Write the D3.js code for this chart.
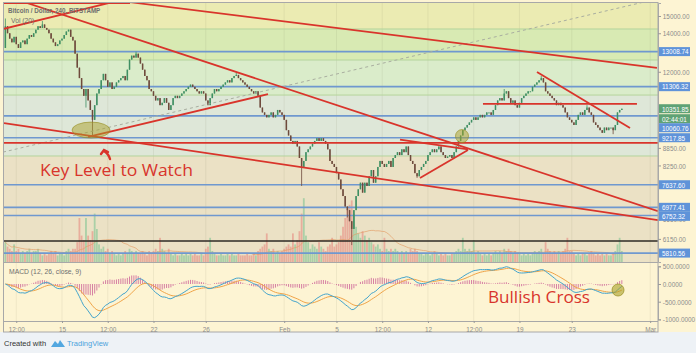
<!DOCTYPE html>
<html>
<head>
<meta charset="utf-8">
<title>Bitcoin / Dollar, 240, BITSTAMP</title>
<script src="https://cdn.jsdelivr.net/npm/d3@7"></script>
<style>
  body { margin: 0; background: #eef2f6; }
  svg { display: block; font-family: "Liberation Sans", Arial, sans-serif; }
  .ax text { font-size: 8px; fill: #8c8c8c; }
  .ax line { stroke: #9a9a9a; }
  .lbl { font-size: 8px; fill: #fff; }
  .note { font-family: "Open Sans", sans-serif; font-size: 16.5px; fill: #d8342c; }
  .legend { font-size: 8px; fill: #6f6f6f; }
</style>
</head>
<body>
<svg width="696" height="353"></svg>
<script>
var parseTime = d3.utcParse("%Y-%m-%d %H:%M");

// ---- data (4h bars, BITSTAMP) ----
var firstCandle = "2018-01-10 16:00";
var firstOpen = 13200;
var closes = [
  14400, 14000,                                   // Jan 10 (16:00, 20:00)
  13700, 13500, 13800, 13400, 13200, 13500,       // Jan 11
  13600, 13400, 13700, 13900, 13800, 14000,       // Jan 12
  14200, 14400, 14300, 14500, 14300, 14200,       // Jan 13
  14000, 13700, 13500, 13300, 13400, 13600,       // Jan 14
  13700, 13900, 14100, 14200, 13800, 13600,       // Jan 15
  12900, 12200, 11700, 11200, 10900, 11200,       // Jan 16
  10700, 10300, 9900, 10500, 11000, 11200,        // Jan 17
  11600, 11900, 11600, 11300, 11500, 11200,       // Jan 18
  11300, 11500, 11600, 11700, 11800, 11600,       // Jan 19
  12100, 12600, 12800, 12700, 12900, 12700,       // Jan 20
  12400, 12100, 11800, 11600, 11200, 11100,       // Jan 21
  10900, 10700, 10800, 10500, 10600, 10800,       // Jan 22
  10600, 10300, 10500, 10800, 10900, 10800,       // Jan 23
  10900, 11000, 11100, 11200, 11300, 11400,       // Jan 24
  11300, 11200, 11100, 11000, 11100, 11000,       // Jan 25
  10700, 10500, 10800, 11000, 11200, 11100,       // Jan 26
  11200, 11300, 11400, 11500, 11600, 11500,       // Jan 27
  11700, 11800, 11850, 11700, 11600, 11500,       // Jan 28
  11400, 11300, 11200, 11100, 11000, 11100,       // Jan 29
  10900, 10400, 10200, 10100, 10000, 10100,       // Jan 30
  10200, 10000, 10100, 10300, 10200, 10100,       // Jan 31
  9900, 9500, 9300, 9100, 9000, 9100,             // Feb 1
  8900, 8500, 8200, 8400, 8700, 8800,             // Feb 2
  8900, 9000, 9100, 9200, 9100, 9200,             // Feb 3
  9100, 9000, 8800, 8400, 8300, 8200,             // Feb 4
  8000, 7800, 7500, 7300, 7000, 6900,             // Feb 5
  6600, 6400, 6900, 7300, 7500, 7700,             // Feb 6
  7400, 7700, 7600, 7900, 8100, 7700,             // Feb 7
  7900, 8200, 8400, 8300, 8200, 8300,             // Feb 8
  8400, 8200, 8500, 8600, 8700, 8600,             // Feb 9
  8800, 8700, 8900, 8600, 8400, 8300,             // Feb 10
  8000, 7900, 8100, 8200, 8300, 8400,             // Feb 11
  8600, 8700, 8800, 8700, 8800, 8900,             // Feb 12
  8700, 8600, 8500, 8550, 8600, 8500,             // Feb 13
  8700, 8900, 9100, 9300, 9500, 9600,             // Feb 14
  9700, 9800, 9900, 10000, 9900, 10000,           // Feb 15
  10100, 10000, 10100, 10200, 10200, 10100,       // Feb 16
  10300, 10500, 10700, 10800, 10700, 11000,       // Feb 17
  11100, 10800, 10600, 10700, 10500, 10400,       // Feb 18
  10600, 10800, 10900, 11000, 11100, 11100,       // Feb 19
  11300, 11400, 11500, 11600, 11700, 11500,       // Feb 20
  11100, 11000, 10900, 10800, 10700, 10500,       // Feb 21
  10600, 10500, 10400, 10200, 10000, 9900,        // Feb 22
  9800, 9700, 9900, 10100, 10200, 10100,          // Feb 23
  10300, 10400, 10200, 10100, 9800, 9700,         // Feb 24
  9600, 9500, 9400, 9600, 9500, 9600,             // Feb 25
  9600, 9500, 9700, 10200, 10300, 10351.85        // Feb 26
];
// thousand BTC per bar
var volumes = [
  9, 7,
  6, 5, 8, 5, 6, 4,
  5, 4, 5, 6, 4, 5,
  5, 6, 4, 3, 4, 3,
  4, 5, 4, 5, 3, 4,
  4, 3, 5, 6, 5, 6,
  6, 9, 20, 12, 10, 20,
  12, 10, 14, 22, 15, 8,
  6, 7, 5, 6, 4, 5,
  4, 3, 4, 3, 4, 5,
  4, 6, 5, 4, 5, 4,
  4, 5, 4, 3, 5, 4,
  5, 6, 5, 11, 6, 5,
  4, 6, 4, 3, 4, 3,
  3, 4, 3, 4, 3, 4,
  3, 4, 3, 3, 4, 3,
  6, 7, 11, 5, 4, 3,
  3, 4, 3, 3, 4, 3,
  4, 3, 3, 4, 3, 3,
  3, 4, 3, 3, 4, 3,
  5, 6, 7, 8, 13, 6,
  5, 6, 4, 5, 4, 5,
  6, 7, 8, 7, 13, 8,
  10, 14, 22, 29, 12, 9,
  6, 8, 7, 6, 9, 7,
  6, 5, 7, 8, 11, 7,
  8, 9, 12, 16, 20, 24,
  26, 28, 22, 16, 13, 11,
  14, 12, 10, 11, 9, 8,
  7, 8, 6, 5, 11, 6,
  5, 6, 5, 6, 5, 4,
  5, 4, 5, 4, 6, 5,
  6, 5, 4, 4, 3, 4,
  4, 3, 4, 5, 4, 3,
  4, 3, 4, 3, 3, 4,
  4, 5, 6, 5, 11, 6,
  5, 6, 5, 10, 4, 5,
  4, 3, 4, 3, 4, 3,
  4, 5, 4, 5, 4, 6,
  5, 6, 5, 4, 5, 4,
  4, 3, 4, 3, 4, 3,
  4, 5, 4, 5, 6, 4,
  9, 6, 5, 4, 5, 4,
  5, 4, 5, 6, 11, 5,
  5, 4, 3, 4, 3, 4,
  4, 3, 4, 5, 4, 3,
  4, 3, 4, 3, 4, 3,
  3, 4, 5, 8, 11, 5
];
var wickHighs = [["2018-01-10 16:00", 14850], ["2018-01-13 12:00", 14700], ["2018-01-20 16:00", 13000],
  ["2018-01-28 08:00", 11950], ["2018-02-17 20:00", 11200], ["2018-02-20 16:00", 11800], ["2018-02-24 04:00", 10500]];
var wickLows = [["2018-01-16 20:00", 10400], ["2018-01-17 08:00", 9300], ["2018-02-02 08:00", 7600],
  ["2018-02-05 20:00", 6700], ["2018-02-06 04:00", 6000], ["2018-02-11 04:00", 7850], ["2018-02-26 04:00", 9350]];

var timeTicks = ["2018-01-11 12:00", "2018-01-15 00:00", "2018-01-18 12:00", "2018-01-22 00:00", "2018-01-26 00:00",
  "2018-02-01 00:00", "2018-02-05 00:00", "2018-02-08 12:00", "2018-02-12 00:00", "2018-02-15 12:00",
  "2018-02-19 00:00", "2018-02-23 00:00", "2018-03-01 00:00"];
var timeLabels = ["12:00", "15", "12:00", "22", "26", "Feb", "5", "12:00", "12", "12:00", "19", "23", "Mar"];
var priceTicks = [15000, 14000, 12000, 8850, 8250, 6650, 6150];
var macdTicks = [500, 0, -500, -1000];

var blueLevels = [13008.74, 11306.32, 10060.76, 9217.85, 7637.60, 6977.41, 6752.32, 5810.56];
var bandEdges = [15800, 14240, 12578, 10933, 8568, 5607];
var bandColors = ["#ebebb2", "#d8eab3", "#daecca", "#dee7d8", "#ebe1c5"];
var blackLevel = 6099;
var countdown = "02:44:01";

var trendLines = [
  [["2018-01-10 13:30", 15800], ["2018-01-20 05:00", 15800]],
  [["2018-01-20 05:00", 15850], ["2018-03-01 12:30", 12190]],
  [["2018-01-10 11:40", 14240], ["2018-01-18 21:40", 15864]],
  [["2018-01-12 07:40", 15800], ["2018-03-01 14:20", 6873]],
  [["2018-01-10 13:30", 9775], ["2018-03-01 14:20", 6631]],
  [["2018-01-17 00:00", 9246], ["2018-01-30 18:15", 10974]],
  [["2018-02-09 20:40", 9150], ["2018-02-15 01:30", 8800]],
  [["2018-02-11 09:20", 7845], ["2018-02-15 01:30", 8773]],
  [["2018-02-20 08:10", 11987], ["2018-02-27 11:00", 9582]],
  [["2018-02-16 05:00", 10550], ["2018-02-27 23:45", 10550]],
  [["2018-01-10 13:30", 9027], ["2018-03-01 14:20", 9027]]
];
var dashedLine = [["2018-01-10 11:40", 8702], ["2018-03-01 12:30", 16055]];

// ---- layout ----
var paneL = 4, paneR = 658, mainT = 3, mainB = 262, macdT = 263, macdB = 321, axisB = 332;
var narrow = "scale(0.8,1)";
var svg = d3.select("svg");
var upCol = "#3f8f63", downCol = "#6e4a3c";

var x = d3.scaleUtc()
  .domain([parseTime("2018-01-10 13:30"), parseTime("2018-03-01 14:24")])
  .range([paneL, paneR]);
var y = d3.scaleLog().domain([15800, 5607]).range([mainT, mainB]);
var yVol = d3.scaleLinear().domain([0, 30]).range([mainB, 196]);
var yMacd = d3.scaleLinear().domain([-1000, 500]).range([319.4, 266.3]);

// candles
var t0 = parseTime(firstCandle).getTime();
var candles = closes.map(function(c, i) {
  var o = i === 0 ? firstOpen : closes[i - 1];
  return { t: new Date(t0 + i * 4 * 3600e3), o: o, c: c, h: Math.max(o, c), l: Math.min(o, c), v: volumes[i] };
});
function byTime(s) {
  var tt = parseTime(s).getTime();
  return candles.find(function(d) { return d.t.getTime() === tt; });
}
wickHighs.forEach(function(w) { var d = byTime(w[0]); if (d) d.h = w[1]; });
wickLows.forEach(function(w) { var d = byTime(w[0]); if (d) d.l = w[1]; });

// indicators
function ema(arr, n) {
  var k = 2 / (n + 1), prev;
  return arr.map(function(v, i) { prev = i === 0 ? v : v * k + prev * (1 - k); return prev; });
}
var e12 = ema(closes, 12), e26 = ema(closes, 26);
var macd = e12.map(function(v, i) { return v - e26[i]; });
var signal = ema(macd, 9);
var volMa = volumes.map(function(v, i) {
  return d3.mean(volumes.slice(Math.max(0, i - 19), i + 1));
});

// ---- backgrounds ----
svg.append("rect").attr("width", 696).attr("height", axisB).attr("fill", "#fdf4d3");
svg.append("rect").attr("y", axisB).attr("width", 696).attr("height", 353 - axisB).attr("fill", "#eef2f6");

svg.append("defs").append("clipPath").attr("id", "clipMain")
  .append("rect").attr("x", paneL).attr("y", mainT).attr("width", paneR - paneL).attr("height", mainB - mainT);
svg.select("defs").append("clipPath").attr("id", "clipMacd")
  .append("rect").attr("x", paneL).attr("y", macdT).attr("width", paneR - paneL).attr("height", macdB - macdT);

var plot = svg.append("g").attr("clip-path", "url(#clipMain)");

plot.selectAll("rect.band").data(bandColors).join("rect").attr("class", "band")
  .attr("x", paneL).attr("width", paneR - paneL)
  .attr("y", function(d, i) { return y(bandEdges[i]); })
  .attr("height", function(d, i) { return y(bandEdges[i + 1]) - y(bandEdges[i]); })
  .attr("fill", function(d) { return d; });

// vertical grid
[plot, svg.append("g").attr("clip-path", "url(#clipMacd)")].forEach(function(g, k) {
  g.selectAll("line.vg").data(timeTicks).join("line").attr("class", "vg")
    .attr("x1", function(d) { return x(parseTime(d)); }).attr("x2", function(d) { return x(parseTime(d)); })
    .attr("y1", k ? macdT : mainT).attr("y2", k ? macdB : mainB)
    .attr("stroke", "rgba(120,120,90,0.10)");
});

plot.selectAll("line.edge").data(bandEdges.slice(1, -1)).join("line").attr("class", "edge")
  .attr("x1", paneL).attr("x2", paneR)
  .attr("y1", function(d) { return y(d); }).attr("y2", function(d) { return y(d); })
  .attr("stroke", "#b4d49c").attr("stroke-width", 1);

// volume
plot.append("g").selectAll("rect").data(candles).join("rect")
  .attr("x", function(d) { return x(d.t) - 0.9; }).attr("width", 1.8)
  .attr("y", function(d) { return yVol(d.v); })
  .attr("height", function(d) { return mainB - yVol(d.v); })
  .attr("fill", function(d) { return d.c >= d.o ? "#7fc593" : "#e68a80"; })
  .attr("opacity", 0.6);
plot.append("path").datum(volMa)
  .attr("d", d3.line().x(function(d, i) { return x(candles[i].t); }).y(function(d) { return yVol(d); }))
  .attr("fill", "none").attr("stroke", "#e39a62").attr("stroke-width", 0.8).attr("opacity", 0.8);

// horizontal levels
plot.selectAll("line.blue").data(blueLevels).join("line").attr("class", "blue")
  .attr("x1", paneL).attr("x2", paneR)
  .attr("y1", function(d) { return y(d); }).attr("y2", function(d) { return y(d); })
  .attr("stroke", "#6f98cf").attr("stroke-width", 1.6);
plot.append("line").attr("x1", paneL).attr("x2", paneR)
  .attr("y1", y(blackLevel)).attr("y2", y(blackLevel))
  .attr("stroke", "#2e2a24").attr("stroke-width", 1.6);

// candles
var gC = plot.append("g");
gC.selectAll("line").data(candles).join("line")
  .attr("x1", function(d) { return x(d.t); }).attr("x2", function(d) { return x(d.t); })
  .attr("y1", function(d) { return y(d.h); }).attr("y2", function(d) { return y(d.l); })
  .attr("stroke", function(d) { return d.c >= d.o ? upCol : downCol; }).attr("stroke-width", 0.8);
gC.selectAll("rect").data(candles).join("rect")
  .attr("x", function(d) { return x(d.t) - 0.75; }).attr("width", 1.5)
  .attr("y", function(d) { return y(Math.max(d.o, d.c)); })
  .attr("height", function(d) { return Math.max(1, Math.abs(y(d.o) - y(d.c))); })
  .attr("fill", function(d) { return d.c >= d.o ? upCol : downCol; });

// drawings
var seg = d3.line().x(function(p) { return x(parseTime(p[0])); }).y(function(p) { return y(p[1]); });
plot.append("path").attr("d", seg(dashedLine))
  .attr("fill", "none").attr("stroke", "#a9aea0").attr("stroke-width", 1).attr("stroke-dasharray", "3,3");
plot.selectAll("path.trend").data(trendLines).join("path").attr("class", "trend")
  .attr("d", seg).attr("fill", "none").attr("stroke", "#d9342b").attr("stroke-width", 1.8);

plot.append("ellipse")
  .attr("cx", x(parseTime("2018-01-17 05:20"))).attr("cy", y(9504)).attr("rx", 19).attr("ry", 8)
  .attr("fill", "rgba(170,160,40,0.5)").attr("stroke", "rgba(150,140,30,0.6)");
plot.append("circle")
  .attr("cx", x(parseTime("2018-02-14 14:30"))).attr("cy", y(9279)).attr("r", 6.5)
  .attr("fill", "rgba(170,160,40,0.5)").attr("stroke", "rgba(150,140,30,0.6)");

svg.append("text").attr("class", "note").attr("x", 40).attr("y", 176)
  .attr("textLength", 153).attr("lengthAdjust", "spacingAndGlyphs").text("Key Level to Watch");
svg.append("path").attr("d", "M110,159 C109,155 107,153 104,151 M101,154 L104,150 L108,152")
  .attr("fill", "none").attr("stroke", "#d9342b").attr("stroke-width", 2.4).attr("stroke-linecap", "round");

svg.append("text").attr("class", "legend").attr("transform", "translate(8,13) scale(0.78,1)")
  .attr("font-weight", "bold").text("Bitcoin / Dollar, 240, BITSTAMP");
svg.append("text").attr("class", "legend").attr("transform", "translate(11,23) scale(0.85,1)").text("Vol (20)");

// ---- MACD pane ----
var macdG = svg.append("g").attr("clip-path", "url(#clipMacd)");
macdG.append("g").selectAll("line").data(candles).join("line")
  .attr("x1", function(d) { return x(d.t); }).attr("x2", function(d) { return x(d.t); })
  .attr("y1", yMacd(0)).attr("y2", function(d, i) { return yMacd(macd[i] - signal[i]); })
  .attr("stroke", "rgba(196,70,140,0.75)").attr("stroke-width", 0.9);
var lineM = d3.line().x(function(d, i) { return x(candles[i].t); }).y(function(d) { return yMacd(d); });
macdG.append("path").datum(signal).attr("d", lineM).attr("fill", "none").attr("stroke", "#f0a448").attr("stroke-width", 1);
macdG.append("path").datum(macd).attr("d", lineM).attr("fill", "none").attr("stroke", "#44a4cc").attr("stroke-width", 1);
macdG.append("circle")
  .attr("cx", x(parseTime("2018-02-26 13:00"))).attr("cy", yMacd(-170)).attr("r", 6)
  .attr("fill", "rgba(170,160,40,0.6)").attr("stroke", "rgba(150,140,30,0.7)");
svg.append("text").attr("class", "legend").attr("transform", "translate(9,274) scale(0.85,1)").text("MACD (12, 26, close, 9)");
svg.append("text").attr("class", "note").attr("x", 488).attr("y", 303)
  .attr("textLength", 102).attr("lengthAdjust", "spacingAndGlyphs").text("Bullish Cross");

// ---- frames ----
svg.append("rect").attr("x", 3.5).attr("y", 2.5).attr("width", paneR - 3.5).attr("height", axisB - 2.5)
  .attr("fill", "none").attr("stroke", "#a8a8a8");
svg.append("line").attr("x1", 3.5).attr("x2", paneR).attr("y1", mainB + 0.5).attr("y2", mainB + 0.5).attr("stroke", "#a8a8a8");
svg.append("line").attr("x1", 3.5).attr("x2", paneR).attr("y1", macdB + 0.5).attr("y2", macdB + 0.5).attr("stroke", "#a8a8a8");

// ---- axes ----
var gy = svg.append("g").attr("class", "ax").attr("transform", "translate(" + paneR + ",0)")
  .call(d3.axisRight(y).tickValues(priceTicks).tickFormat(d3.format(".2f")).tickSize(3).tickPadding(3));
var gm = svg.append("g").attr("class", "ax").attr("transform", "translate(" + paneR + ",0)")
  .call(d3.axisRight(yMacd).tickValues(macdTicks).tickFormat(function(d) { return d.toFixed(4); }).tickSize(3).tickPadding(3));
var gx = svg.append("g").attr("class", "ax").attr("transform", "translate(0," + macdB + ")")
  .call(d3.axisBottom(x).tickValues(timeTicks.map(parseTime))
    .tickFormat(function(d, i) { return timeLabels[i]; }).tickSize(2).tickPadding(3));
[gy, gm, gx].forEach(function(g) {
  g.attr("font-family", null).attr("font-size", null);
  g.selectAll("text").attr("transform", narrow);
});
gm.selectAll(".tick").filter(function(d) { return d === -1000; }).select("text").attr("dy", "0.2em");
gy.select(".domain").attr("stroke", "#a8a8a8");
gm.select(".domain").attr("stroke", "#a8a8a8");
gx.select(".domain").remove();

// price labels on the scale
var boxes = blueLevels.map(function(v) { return { v: v, c: "#5f93d9", t: v.toFixed(2) }; });
var last = closes[closes.length - 1];
boxes.push({ v: last, c: "#5fa275", t: last.toFixed(2), cd: true });
boxes.forEach(function(b) { b.y = y(b.v); });
boxes.sort(function(a, b) { return a.y - b.y; });
var bottomUsed = -Infinity;
boxes.forEach(function(b) {
  if (b.y - 4.5 < bottomUsed) b.y = bottomUsed + 4.5;
  bottomUsed = b.y + 4.5 + (b.cd ? 10 : 0);
});
var lg = svg.append("g");
boxes.forEach(function(b) {
  lg.append("rect").attr("x", paneR + 1).attr("y", b.y - 4.5).attr("width", 31).attr("height", 9).attr("fill", b.c);
  lg.append("text").attr("class", "lbl").attr("transform", "translate(" + (paneR + 4) + "," + (b.y + 2.8) + ") " + narrow).text(b.t);
  if (b.cd) {
    lg.append("rect").attr("x", paneR + 1).attr("y", b.y + 5.5).attr("width", 31).attr("height", 9).attr("fill", b.c);
    lg.append("text").attr("class", "lbl").attr("transform", "translate(" + (paneR + 4) + "," + (b.y + 12.8) + ") " + narrow).text(countdown);
  }
});

// ---- footer ----
svg.append("text").attr("x", 4).attr("y", 346).attr("font-size", 7.5).attr("fill", "#333").text("Created with");
var logo = svg.append("g").attr("transform", "translate(51,339)").attr("fill", "#52a7e0");
logo.append("path").attr("d", "M0,8 L4,2 L7,5 L9,1 L14,8 Z");
svg.append("text").attr("x", 67).attr("y", 346).attr("font-size", 7.5).attr("fill", "#4ba2dc").text("TradingView");
</script>
</body>
</html>
